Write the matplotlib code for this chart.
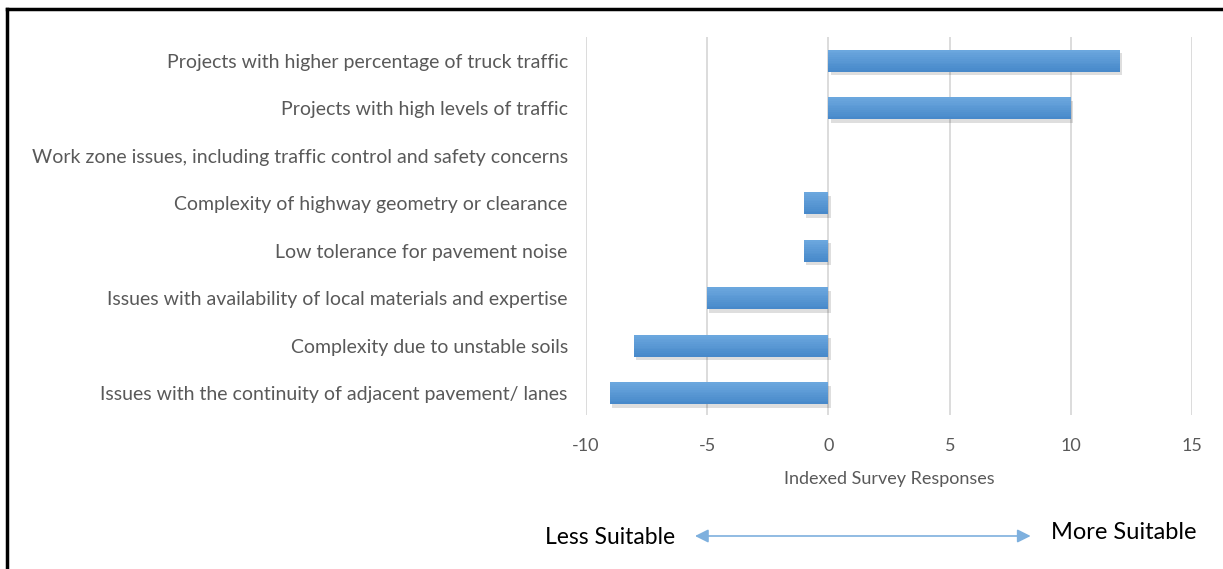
import numpy as np
import matplotlib
matplotlib.use("Agg")
import matplotlib.pyplot as plt
import matplotlib.patheffects as pe
from matplotlib.colors import to_rgb

# Survey factors and indexed responses (positive = more suitable)
factors = [
    "Projects with higher percentage of truck traffic",
    "Projects with high levels of traffic",
    "Work zone issues, including traffic control and safety concerns",
    "Complexity of highway geometry or clearance",
    "Low tolerance for pavement noise",
    "Issues with availability of local materials and expertise",
    "Complexity due to unstable soils",
    "Issues with the continuity of adjacent pavement/ lanes",
]
scores = [12, 10, 0, -1, -1, -5, -8, -9]
xticks = [-10, -5, 0, 5, 10, 15]

plt.rcParams["font.family"] = ["Lato", "DejaVu Sans"]
grey = "#595959"
blue = "#5B9BD5"

fig = plt.figure(figsize=(12.23, 5.69), dpi=100)
ax = fig.add_axes([0.479, 0.271, 0.496, 0.664])

ypos = np.arange(len(factors))
bh = 0.46
bars = ax.barh(ypos, scores, height=bh, color=blue, zorder=3)
for b in bars:
    b.set_path_effects([
        pe.SimplePatchShadow(offset=(1.5, -2.5), shadow_rgbFace="#000000", alpha=0.13),
        pe.Normal()])

# vertical shading inside each bar, light at the top, darker at the bottom
top_c = np.array(to_rgb("#6DA8DF"))
bot_c = np.array(to_rgb("#4688C9"))
nsl = 12
for k in range(nsl):
    f = (k + 0.5) / nsl
    off = -bh / 2 + (k + 0.5) * bh / nsl
    ax.barh(ypos + off, scores, height=bh / nsl + 0.002,
            color=top_c * (1 - f) + bot_c * f, linewidth=0, zorder=4)

ax.set_xlim(-10, 15)
ax.set_ylim(7.45, -0.5)
ax.set_xticks(xticks)
ax.set_xticklabels([str(t) for t in xticks], fontsize=13, color=grey)
ax.set_yticks(ypos)
ax.set_yticklabels(factors, fontsize=14, color=grey)
ax.tick_params(axis="both", length=0)
ax.tick_params(axis="x", pad=17)
ax.tick_params(axis="y", pad=13)
ax.grid(axis="x", color="#d9d9d9", linewidth=1.3, zorder=0)
for s in ax.spines.values():
    s.set_visible(False)
ax.set_xlabel("Indexed Survey Responses", fontsize=13, color=grey, labelpad=12)

# direction arrow under the axis
fig.text(0.499, 0.056, "Less Suitable", fontsize=16.5, color="black",
         ha="center", va="center")
fig.text(0.919, 0.064, "More Suitable", fontsize=17, color="black",
         ha="center", va="center")
fig.patches.append(matplotlib.patches.FancyArrowPatch(
    (0.566, 0.058), (0.845, 0.058), transform=fig.transFigure,
    arrowstyle="<|-|>", mutation_scale=20, color="#7EB0DE", linewidth=1.2))

# frame lines on the top and left edges
fig.add_artist(plt.Line2D([0.006, 1.0], [0.985, 0.985], color="black",
                          linewidth=2.5, transform=fig.transFigure))
fig.add_artist(plt.Line2D([0.006, 0.006], [0.0, 0.985], color="black",
                          linewidth=2.5, transform=fig.transFigure))

fig.savefig("out.png", dpi=100, facecolor="white")
